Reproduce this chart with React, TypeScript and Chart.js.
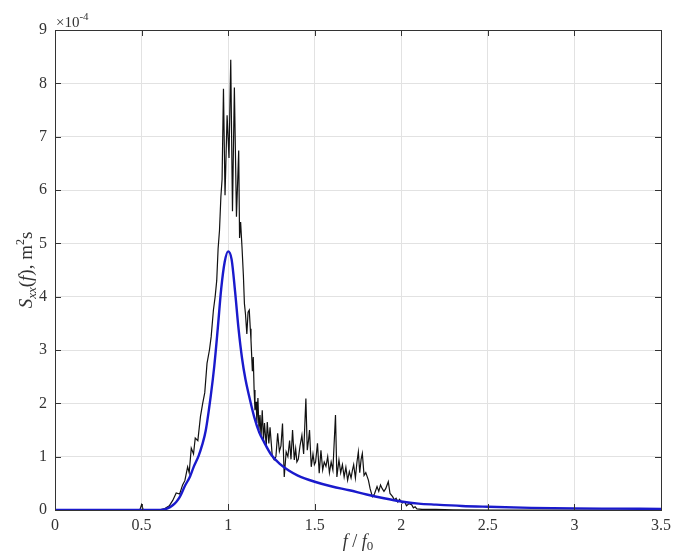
import React, { useEffect, useRef } from 'react';
import { Chart, registerables } from 'chart.js';

Chart.register(...registerables);

// Theoretical spectrum (blue), f/f0 and S (x1e-4)
const blueF = [0, 0.5, 0.6, 0.62, 0.65, 0.68, 0.7, 0.72, 0.75, 0.78, 0.8, 0.83, 0.85, 0.87, 0.9, 0.92, 0.94, 0.96, 0.98, 1.0, 1.02, 1.04, 1.06, 1.08, 1.1, 1.12, 1.15, 1.18, 1.2, 1.25, 1.3, 1.35, 1.4, 1.5, 1.6, 1.7, 1.8, 1.9, 2.0, 2.1, 2.2, 2.35, 2.5, 2.75, 3.0, 3.25, 3.5];
const blueS = [0, 0, 0, 0.005, 0.03, 0.09, 0.15, 0.24, 0.45, 0.63, 0.8, 1.02, 1.22, 1.48, 2.15, 2.7, 3.4, 4.15, 4.65, 4.85, 4.7, 4.1, 3.4, 2.85, 2.45, 2.15, 1.75, 1.45, 1.32, 1.03, 0.86, 0.74, 0.65, 0.53, 0.44, 0.37, 0.29, 0.22, 0.16, 0.12, 0.1, 0.075, 0.06, 0.04, 0.03, 0.025, 0.02];

// Measured spectrum (black)
const blackF = [0, 0.45, 0.49, 0.5, 0.51, 0.6, 0.63, 0.66, 0.68, 0.7, 0.72, 0.737, 0.75, 0.766, 0.775, 0.787, 0.8, 0.81, 0.825, 0.84, 0.853, 0.865, 0.878, 0.892, 0.902, 0.915, 0.925, 0.934, 0.942, 0.95, 0.958, 0.965, 0.973, 0.982, 0.994, 1.005, 1.015, 1.025, 1.036, 1.048, 1.061, 1.066, 1.072, 1.08, 1.088, 1.094, 1.1, 1.108, 1.115, 1.122, 1.128, 1.132, 1.14, 1.145, 1.15, 1.155, 1.162, 1.166, 1.172, 1.178, 1.184, 1.19, 1.197, 1.204, 1.21, 1.22, 1.226, 1.235, 1.242, 1.255, 1.266, 1.276, 1.286, 1.296, 1.305, 1.314, 1.324, 1.335, 1.345, 1.355, 1.363, 1.372, 1.382, 1.39, 1.397, 1.405, 1.415, 1.426, 1.436, 1.449, 1.457, 1.464, 1.47, 1.48, 1.49, 1.498, 1.505, 1.516, 1.526, 1.536, 1.546, 1.555, 1.565, 1.575, 1.585, 1.595, 1.605, 1.62, 1.628, 1.64, 1.65, 1.66, 1.67, 1.68, 1.69, 1.7, 1.71, 1.718, 1.725, 1.735, 1.744, 1.752, 1.76, 1.768, 1.775, 1.785, 1.795, 1.81, 1.82, 1.833, 1.845, 1.86, 1.87, 1.88, 1.89, 1.9, 1.91, 1.925, 1.935, 1.95, 1.96, 1.97, 1.98, 1.99, 2.005, 2.02, 2.03, 2.045, 2.06, 2.07, 2.08, 2.09, 2.12, 2.2, 2.3, 2.5, 3.5];
const blackS = [0, 0, 0, 0.1, 0, 0, 0.02, 0.08, 0.18, 0.32, 0.3, 0.47, 0.55, 0.81, 0.7, 1.16, 1.05, 1.35, 1.3, 1.75, 2.0, 2.2, 2.75, 3.0, 3.25, 3.75, 4.0, 4.3, 4.9, 5.24, 5.87, 6.2, 7.9, 5.9, 7.4, 6.6, 8.44, 5.6, 7.92, 5.5, 6.74, 5.1, 5.4, 4.93, 4.4, 3.87, 3.68, 3.3, 3.71, 3.75, 3.4, 3.18, 2.6, 2.87, 2.25, 1.87, 2.03, 1.63, 2.1, 1.5, 1.78, 1.37, 1.87, 1.31, 1.63, 1.2, 1.65, 1.25, 1.55, 1.0, 0.94, 1.0, 1.44, 1.1, 1.2, 1.62, 0.62, 1.09, 1.0, 1.3, 0.95, 1.5, 0.94, 1.15, 0.9, 0.95, 1.2, 1.4, 1.05, 2.09, 1.12, 1.3, 1.5, 0.81, 1.05, 0.85, 0.9, 1.25, 0.69, 1.12, 0.75, 0.9, 0.82, 1.0, 0.7, 0.9, 0.75, 1.78, 0.62, 0.94, 0.7, 0.85, 0.62, 0.8, 0.56, 0.72, 0.6, 0.75, 0.85, 0.6, 0.9, 1.09, 0.7, 0.95, 1.06, 0.65, 0.7, 0.56, 0.4, 0.25, 0.3, 0.44, 0.35, 0.47, 0.4, 0.35, 0.4, 0.53, 0.31, 0.25, 0.19, 0.22, 0.15, 0.2, 0.13, 0.15, 0.08, 0.12, 0.1, 0.04, 0.06, 0.02, 0.01, 0.01, 0.005, 0, 0];

const xTickStep = 0.5;
const yTickStep = 1;

const SERIF = '"Liberation Serif", "Times New Roman", serif';
const TEXT = '#333333';

function drawPieces(ctx: CanvasRenderingContext2D, pieces: { t: string; font: string; dy: number }[], cx: number, cy: number) {
  let total = 0;
  for (const p of pieces) {
    ctx.font = p.font;
    total += ctx.measureText(p.t).width;
  }
  let x = cx - total / 2;
  for (const p of pieces) {
    ctx.font = p.font;
    ctx.fillText(p.t, x, cy + p.dy);
    x += ctx.measureText(p.t).width;
  }
}

const decorPlugin = {
  id: 'decor',
  afterDraw(chart: any) {
    const { ctx, chartArea } = chart;
    const { left, right, top, bottom } = chartArea;
    const xs = chart.scales.x;
    const ys = chart.scales.y;
    ctx.save();
    // box
    ctx.strokeStyle = '#333333';
    ctx.lineWidth = 1;
    ctx.strokeRect(Math.round(left) + 0.5, Math.round(top) + 0.5, Math.round(right - left), Math.round(bottom - top));
    // inward ticks
    ctx.beginPath();
    xs.ticks.forEach((t: any) => {
      const px = Math.round(xs.getPixelForValue(t.value)) + 0.5;
      ctx.moveTo(px, bottom);
      ctx.lineTo(px, bottom - 6);
      ctx.moveTo(px, top);
      ctx.lineTo(px, top + 6);
    });
    ys.ticks.forEach((t: any) => {
      const py = Math.round(ys.getPixelForValue(t.value)) + 0.5;
      ctx.moveTo(left, py);
      ctx.lineTo(left + 6, py);
      ctx.moveTo(right, py);
      ctx.lineTo(right - 6, py);
    });
    ctx.stroke();

    ctx.fillStyle = TEXT;
    ctx.textBaseline = 'alphabetic';
    ctx.textAlign = 'left';
    // exponent label
    ctx.font = `15px ${SERIF}`;
    ctx.fillText('\u00d710', left + 1, 27);
    const w = ctx.measureText('\u00d710').width;
    ctx.font = `11px ${SERIF}`;
    ctx.fillText('-4', left + 1 + w, 20);

    // x title
    drawPieces(ctx, [
      { t: 'f', font: `italic 18px ${SERIF}`, dy: 0 },
      { t: ' / ', font: `18px ${SERIF}`, dy: 0 },
      { t: 'f', font: `italic 18px ${SERIF}`, dy: 0 },
      { t: '0', font: `13px ${SERIF}`, dy: 3 },
    ], (left + right) / 2, 547);

    // y title
    ctx.translate(32, (top + bottom) / 2);
    ctx.rotate(-Math.PI / 2);
    drawPieces(ctx, [
      { t: 'S', font: `italic 19px ${SERIF}`, dy: 0 },
      { t: 'xx', font: `italic 13px ${SERIF}`, dy: 4 },
      { t: '(', font: `19px ${SERIF}`, dy: 0 },
      { t: 'f', font: `italic 19px ${SERIF}`, dy: 0 },
      { t: '), m', font: `19px ${SERIF}`, dy: 0 },
      { t: '2', font: `12px ${SERIF}`, dy: -8 },
      { t: 's', font: `19px ${SERIF}`, dy: 0 },
    ], 0, 0);
    ctx.restore();
  },
};

export default function App() {
  const ref = useRef<HTMLCanvasElement | null>(null);
  useEffect(() => {
    if (!ref.current) return;
    const blue = blueF.map((f, i) => ({ x: f, y: blueS[i] }));
    const black = blackF.map((f, i) => ({ x: f, y: blackS[i] }));
    const chart = new Chart(ref.current, {
      type: 'line',
      data: {
        datasets: [
          {
            data: blue,
            borderColor: '#1a1acc',
            borderWidth: 2.4,
            pointRadius: 0,
            cubicInterpolationMode: 'monotone',
            fill: false,
          },
          {
            data: black,
            borderColor: '#111111',
            borderWidth: 1.2,
            pointRadius: 0,
            tension: 0,
            fill: false,
          },
        ],
      },
      options: {
        responsive: false,
        animation: false,
        devicePixelRatio: 1,
        layout: { padding: { top: 30, right: 14, left: 0, bottom: 0 } },
        plugins: { legend: { display: false }, tooltip: { enabled: false } },
        scales: {
          x: {
            type: 'linear',
            min: 0,
            max: 3.5,
            afterFit: (s: any) => { s.height = 48; },
            ticks: { stepSize: xTickStep, color: TEXT, font: { family: SERIF, size: 16 }, padding: 6, maxRotation: 0, callback: (v: any) => String(v) },
            grid: { color: '#e2e2e2', drawTicks: false, lineWidth: 1 },
            border: { display: false },
          },
          y: {
            type: 'linear',
            min: 0,
            max: 9,
            afterFit: (s: any) => { s.width = 55; },
            ticks: { stepSize: yTickStep, color: TEXT, font: { family: SERIF, size: 16 }, padding: 8, callback: (v: any) => String(v) },
            grid: { color: '#e2e2e2', drawTicks: false, lineWidth: 1 },
            border: { display: false },
          },
        },
      } as any,
      plugins: [decorPlugin],
    });
    return () => chart.destroy();
  }, []);
  return (
    <div style={{ position: 'fixed', left: 0, top: 0, width: 677, height: 558, background: '#fff' }}>
      <canvas ref={ref} width={677} height={558} style={{ display: 'block' }} />
    </div>
  );
}
